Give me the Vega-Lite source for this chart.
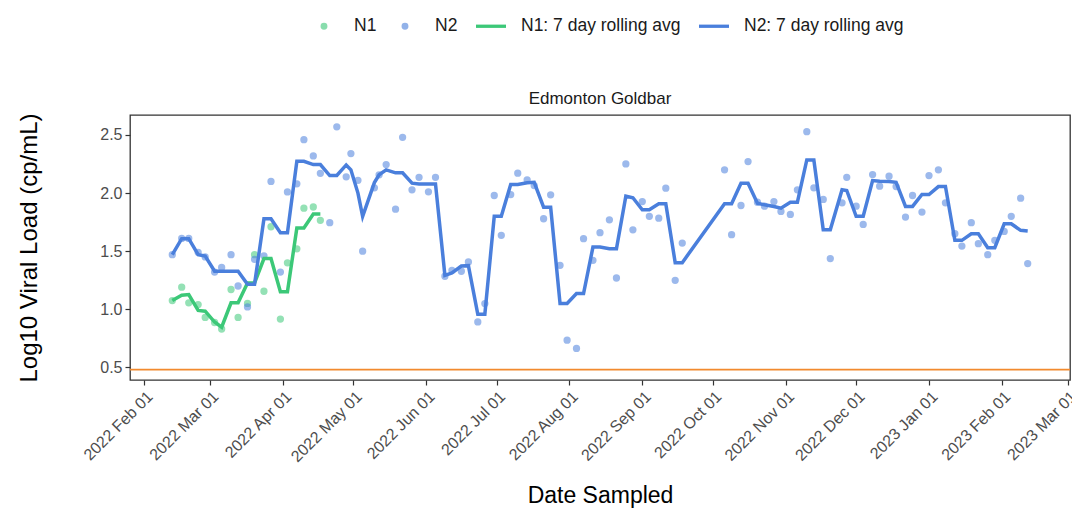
{
  "$schema": "https://vega.github.io/schema/vega-lite/v6.json",
  "width": 940,
  "height": 265,
  "autosize": {"type": "none"},
  "padding": {"left": 130, "top": 115, "right": 2, "bottom": 135},
  "background": "white",
  "title": {"text": "Edmonton Goldbar", "fontSize": 17, "font": "Liberation Sans", "fontWeight": "normal", "color": "#1A1A1A", "anchor": "middle", "frame": "group", "offset": 7, "dy": 106},
  "data": {"values": [
    {"date":"2022-02-13","series":"N1","value":1.075},{"date":"2022-02-17","series":"N1","value":1.19},{"date":"2022-02-20","series":"N1","value":1.055},{"date":"2022-02-24","series":"N1","value":1.04},{"date":"2022-02-27","series":"N1","value":0.93},{"date":"2022-03-03","series":"N1","value":0.886},{"date":"2022-03-06","series":"N1","value":0.83},{"date":"2022-03-10","series":"N1","value":1.17},{"date":"2022-03-13","series":"N1","value":0.93},{"date":"2022-03-17","series":"N1","value":1.05},{"date":"2022-03-20","series":"N1","value":1.47},{"date":"2022-03-24","series":"N1","value":1.155},{"date":"2022-03-27","series":"N1","value":1.71},{"date":"2022-03-31","series":"N1","value":0.915},{"date":"2022-04-03","series":"N1","value":1.40},{"date":"2022-04-07","series":"N1","value":1.52},{"date":"2022-04-10","series":"N1","value":1.87},{"date":"2022-04-14","series":"N1","value":1.88},{"date":"2022-04-17","series":"N1","value":1.765},
    {"date":"2022-02-13","series":"N1: 7 day rolling avg","value":1.075},{"date":"2022-02-17","series":"N1: 7 day rolling avg","value":1.12},{"date":"2022-02-20","series":"N1: 7 day rolling avg","value":1.126},{"date":"2022-02-24","series":"N1: 7 day rolling avg","value":0.99},{"date":"2022-02-27","series":"N1: 7 day rolling avg","value":0.983},{"date":"2022-03-03","series":"N1: 7 day rolling avg","value":0.89},{"date":"2022-03-06","series":"N1: 7 day rolling avg","value":0.846},{"date":"2022-03-10","series":"N1: 7 day rolling avg","value":1.055},{"date":"2022-03-13","series":"N1: 7 day rolling avg","value":1.055},{"date":"2022-03-17","series":"N1: 7 day rolling avg","value":1.226},{"date":"2022-03-20","series":"N1: 7 day rolling avg","value":1.226},{"date":"2022-03-24","series":"N1: 7 day rolling avg","value":1.436},{"date":"2022-03-27","series":"N1: 7 day rolling avg","value":1.436},{"date":"2022-03-31","series":"N1: 7 day rolling avg","value":1.15},{"date":"2022-04-03","series":"N1: 7 day rolling avg","value":1.15},{"date":"2022-04-07","series":"N1: 7 day rolling avg","value":1.70},{"date":"2022-04-10","series":"N1: 7 day rolling avg","value":1.70},{"date":"2022-04-14","series":"N1: 7 day rolling avg","value":1.82},{"date":"2022-04-17","series":"N1: 7 day rolling avg","value":1.82},
    {"date":"2022-02-13","series":"N2","value":1.47},{"date":"2022-02-17","series":"N2","value":1.61},{"date":"2022-02-20","series":"N2","value":1.61},{"date":"2022-02-24","series":"N2","value":1.49},{"date":"2022-02-27","series":"N2","value":1.45},{"date":"2022-03-03","series":"N2","value":1.32},{"date":"2022-03-06","series":"N2","value":1.36},{"date":"2022-03-10","series":"N2","value":1.47},{"date":"2022-03-13","series":"N2","value":1.20},{"date":"2022-03-17","series":"N2","value":1.02},{"date":"2022-03-20","series":"N2","value":1.43},{"date":"2022-03-24","series":"N2","value":1.46},{"date":"2022-03-27","series":"N2","value":2.10},{"date":"2022-03-31","series":"N2","value":1.32},{"date":"2022-04-03","series":"N2","value":2.01},{"date":"2022-04-07","series":"N2","value":2.08},{"date":"2022-04-10","series":"N2","value":2.46},{"date":"2022-04-14","series":"N2","value":2.32},{"date":"2022-04-17","series":"N2","value":2.17},{"date":"2022-04-21","series":"N2","value":1.745},{"date":"2022-04-24","series":"N2","value":2.57},{"date":"2022-04-28","series":"N2","value":2.14},{"date":"2022-04-30","series":"N2","value":2.34},{"date":"2022-05-03","series":"N2","value":2.11},{"date":"2022-05-05","series":"N2","value":1.50},{"date":"2022-05-10","series":"N2","value":2.045},{"date":"2022-05-12","series":"N2","value":2.157},{"date":"2022-05-15","series":"N2","value":2.245},{"date":"2022-05-19","series":"N2","value":1.861},{"date":"2022-05-22","series":"N2","value":2.48},{"date":"2022-05-26","series":"N2","value":2.028},{"date":"2022-05-29","series":"N2","value":2.136},{"date":"2022-06-02","series":"N2","value":2.011},{"date":"2022-06-05","series":"N2","value":2.136},{"date":"2022-06-09","series":"N2","value":1.284},{"date":"2022-06-12","series":"N2","value":1.335},{"date":"2022-06-16","series":"N2","value":1.327},{"date":"2022-06-19","series":"N2","value":1.407},{"date":"2022-06-23","series":"N2","value":0.891},{"date":"2022-06-26","series":"N2","value":1.049},{"date":"2022-06-30","series":"N2","value":1.979},{"date":"2022-07-03","series":"N2","value":1.636},{"date":"2022-07-07","series":"N2","value":1.987},{"date":"2022-07-10","series":"N2","value":2.171},{"date":"2022-07-14","series":"N2","value":2.114},{"date":"2022-07-17","series":"N2","value":2.065},{"date":"2022-07-21","series":"N2","value":1.779},{"date":"2022-07-24","series":"N2","value":1.985},{"date":"2022-07-28","series":"N2","value":1.378},{"date":"2022-07-31","series":"N2","value":0.734},{"date":"2022-08-04","series":"N2","value":0.663},{"date":"2022-08-07","series":"N2","value":1.607},{"date":"2022-08-11","series":"N2","value":1.421},{"date":"2022-08-14","series":"N2","value":1.659},{"date":"2022-08-18","series":"N2","value":1.770},{"date":"2022-08-21","series":"N2","value":1.269},{"date":"2022-08-25","series":"N2","value":2.251},{"date":"2022-08-28","series":"N2","value":1.684},{"date":"2022-09-01","series":"N2","value":1.927},{"date":"2022-09-04","series":"N2","value":1.80},{"date":"2022-09-08","series":"N2","value":1.784},{"date":"2022-09-11","series":"N2","value":2.042},{"date":"2022-09-15","series":"N2","value":1.249},{"date":"2022-09-18","series":"N2","value":1.570},{"date":"2022-10-06","series":"N2","value":2.20},{"date":"2022-10-09","series":"N2","value":1.642},{"date":"2022-10-13","series":"N2","value":1.893},{"date":"2022-10-16","series":"N2","value":2.271},{"date":"2022-10-20","series":"N2","value":1.921},{"date":"2022-10-23","series":"N2","value":1.887},{"date":"2022-10-27","series":"N2","value":1.927},{"date":"2022-10-30","series":"N2","value":1.842},{"date":"2022-11-03","series":"N2","value":1.816},{"date":"2022-11-06","series":"N2","value":2.028},{"date":"2022-11-10","series":"N2","value":2.528},{"date":"2022-11-13","series":"N2","value":2.045},{"date":"2022-11-17","series":"N2","value":1.945},{"date":"2022-11-20","series":"N2","value":1.436},{"date":"2022-11-25","series":"N2","value":1.916},{"date":"2022-11-27","series":"N2","value":2.136},{"date":"2022-12-01","series":"N2","value":1.887},{"date":"2022-12-04","series":"N2","value":1.730},{"date":"2022-12-08","series":"N2","value":2.159},{"date":"2022-12-11","series":"N2","value":2.059},{"date":"2022-12-15","series":"N2","value":2.145},{"date":"2022-12-18","series":"N2","value":2.056},{"date":"2022-12-22","series":"N2","value":1.793},{"date":"2022-12-25","series":"N2","value":1.979},{"date":"2022-12-29","series":"N2","value":1.836},{"date":"2023-01-01","series":"N2","value":2.151},{"date":"2023-01-05","series":"N2","value":2.20},{"date":"2023-01-08","series":"N2","value":1.916},{"date":"2023-01-12","series":"N2","value":1.650},{"date":"2023-01-15","series":"N2","value":1.544},{"date":"2023-01-19","series":"N2","value":1.745},{"date":"2023-01-22","series":"N2","value":1.564},{"date":"2023-01-26","series":"N2","value":1.470},{"date":"2023-01-29","series":"N2","value":1.593},{"date":"2023-02-02","series":"N2","value":1.670},{"date":"2023-02-05","series":"N2","value":1.80},{"date":"2023-02-09","series":"N2","value":1.956},{"date":"2023-02-12","series":"N2","value":1.393},
    {"date":"2022-02-13","series":"N2: 7 day rolling avg","value":1.47},{"date":"2022-02-17","series":"N2: 7 day rolling avg","value":1.607},{"date":"2022-02-20","series":"N2: 7 day rolling avg","value":1.607},{"date":"2022-02-24","series":"N2: 7 day rolling avg","value":1.47},{"date":"2022-02-27","series":"N2: 7 day rolling avg","value":1.458},{"date":"2022-03-03","series":"N2: 7 day rolling avg","value":1.327},{"date":"2022-03-06","series":"N2: 7 day rolling avg","value":1.327},{"date":"2022-03-10","series":"N2: 7 day rolling avg","value":1.327},{"date":"2022-03-13","series":"N2: 7 day rolling avg","value":1.327},{"date":"2022-03-17","series":"N2: 7 day rolling avg","value":1.215},{"date":"2022-03-20","series":"N2: 7 day rolling avg","value":1.215},{"date":"2022-03-24","series":"N2: 7 day rolling avg","value":1.779},{"date":"2022-03-27","series":"N2: 7 day rolling avg","value":1.779},{"date":"2022-03-31","series":"N2: 7 day rolling avg","value":1.659},{"date":"2022-04-03","series":"N2: 7 day rolling avg","value":1.659},{"date":"2022-04-07","series":"N2: 7 day rolling avg","value":2.273},{"date":"2022-04-10","series":"N2: 7 day rolling avg","value":2.273},{"date":"2022-04-14","series":"N2: 7 day rolling avg","value":2.245},{"date":"2022-04-17","series":"N2: 7 day rolling avg","value":2.245},{"date":"2022-04-21","series":"N2: 7 day rolling avg","value":2.151},{"date":"2022-04-24","series":"N2: 7 day rolling avg","value":2.151},{"date":"2022-04-28","series":"N2: 7 day rolling avg","value":2.242},{"date":"2022-04-30","series":"N2: 7 day rolling avg","value":2.20},{"date":"2022-05-03","series":"N2: 7 day rolling avg","value":2.0},{"date":"2022-05-05","series":"N2: 7 day rolling avg","value":1.80},{"date":"2022-05-10","series":"N2: 7 day rolling avg","value":2.09},{"date":"2022-05-12","series":"N2: 7 day rolling avg","value":2.157},{"date":"2022-05-15","series":"N2: 7 day rolling avg","value":2.20},{"date":"2022-05-19","series":"N2: 7 day rolling avg","value":2.174},{"date":"2022-05-22","series":"N2: 7 day rolling avg","value":2.174},{"date":"2022-05-26","series":"N2: 7 day rolling avg","value":2.085},{"date":"2022-05-29","series":"N2: 7 day rolling avg","value":2.079},{"date":"2022-06-02","series":"N2: 7 day rolling avg","value":2.079},{"date":"2022-06-05","series":"N2: 7 day rolling avg","value":2.079},{"date":"2022-06-09","series":"N2: 7 day rolling avg","value":1.292},{"date":"2022-06-12","series":"N2: 7 day rolling avg","value":1.312},{"date":"2022-06-16","series":"N2: 7 day rolling avg","value":1.372},{"date":"2022-06-19","series":"N2: 7 day rolling avg","value":1.375},{"date":"2022-06-23","series":"N2: 7 day rolling avg","value":0.957},{"date":"2022-06-26","series":"N2: 7 day rolling avg","value":0.957},{"date":"2022-06-30","series":"N2: 7 day rolling avg","value":1.80},{"date":"2022-07-03","series":"N2: 7 day rolling avg","value":1.80},{"date":"2022-07-07","series":"N2: 7 day rolling avg","value":2.073},{"date":"2022-07-10","series":"N2: 7 day rolling avg","value":2.073},{"date":"2022-07-14","series":"N2: 7 day rolling avg","value":2.088},{"date":"2022-07-17","series":"N2: 7 day rolling avg","value":2.093},{"date":"2022-07-21","series":"N2: 7 day rolling avg","value":1.879},{"date":"2022-07-24","series":"N2: 7 day rolling avg","value":1.879},{"date":"2022-07-28","series":"N2: 7 day rolling avg","value":1.049},{"date":"2022-07-31","series":"N2: 7 day rolling avg","value":1.049},{"date":"2022-08-04","series":"N2: 7 day rolling avg","value":1.135},{"date":"2022-08-07","series":"N2: 7 day rolling avg","value":1.135},{"date":"2022-08-11","series":"N2: 7 day rolling avg","value":1.535},{"date":"2022-08-14","series":"N2: 7 day rolling avg","value":1.535},{"date":"2022-08-18","series":"N2: 7 day rolling avg","value":1.521},{"date":"2022-08-21","series":"N2: 7 day rolling avg","value":1.521},{"date":"2022-08-25","series":"N2: 7 day rolling avg","value":1.973},{"date":"2022-08-28","series":"N2: 7 day rolling avg","value":1.96},{"date":"2022-09-01","series":"N2: 7 day rolling avg","value":1.856},{"date":"2022-09-04","series":"N2: 7 day rolling avg","value":1.856},{"date":"2022-09-08","series":"N2: 7 day rolling avg","value":1.908},{"date":"2022-09-11","series":"N2: 7 day rolling avg","value":1.908},{"date":"2022-09-15","series":"N2: 7 day rolling avg","value":1.401},{"date":"2022-09-18","series":"N2: 7 day rolling avg","value":1.401},{"date":"2022-10-06","series":"N2: 7 day rolling avg","value":1.908},{"date":"2022-10-09","series":"N2: 7 day rolling avg","value":1.908},{"date":"2022-10-13","series":"N2: 7 day rolling avg","value":2.085},{"date":"2022-10-16","series":"N2: 7 day rolling avg","value":2.085},{"date":"2022-10-20","series":"N2: 7 day rolling avg","value":1.913},{"date":"2022-10-23","series":"N2: 7 day rolling avg","value":1.899},{"date":"2022-10-27","series":"N2: 7 day rolling avg","value":1.885},{"date":"2022-10-30","series":"N2: 7 day rolling avg","value":1.870},{"date":"2022-11-03","series":"N2: 7 day rolling avg","value":1.921},{"date":"2022-11-06","series":"N2: 7 day rolling avg","value":1.921},{"date":"2022-11-10","series":"N2: 7 day rolling avg","value":2.285},{"date":"2022-11-13","series":"N2: 7 day rolling avg","value":2.285},{"date":"2022-11-17","series":"N2: 7 day rolling avg","value":1.684},{"date":"2022-11-20","series":"N2: 7 day rolling avg","value":1.684},{"date":"2022-11-25","series":"N2: 7 day rolling avg","value":2.028},{"date":"2022-11-27","series":"N2: 7 day rolling avg","value":2.022},{"date":"2022-12-01","series":"N2: 7 day rolling avg","value":1.80},{"date":"2022-12-04","series":"N2: 7 day rolling avg","value":1.80},{"date":"2022-12-08","series":"N2: 7 day rolling avg","value":2.108},{"date":"2022-12-11","series":"N2: 7 day rolling avg","value":2.102},{"date":"2022-12-15","series":"N2: 7 day rolling avg","value":2.099},{"date":"2022-12-18","series":"N2: 7 day rolling avg","value":2.093},{"date":"2022-12-22","series":"N2: 7 day rolling avg","value":1.885},{"date":"2022-12-25","series":"N2: 7 day rolling avg","value":1.885},{"date":"2022-12-29","series":"N2: 7 day rolling avg","value":1.988},{"date":"2023-01-01","series":"N2: 7 day rolling avg","value":1.988},{"date":"2023-01-05","series":"N2: 7 day rolling avg","value":2.056},{"date":"2023-01-08","series":"N2: 7 day rolling avg","value":2.056},{"date":"2023-01-12","series":"N2: 7 day rolling avg","value":1.593},{"date":"2023-01-15","series":"N2: 7 day rolling avg","value":1.593},{"date":"2023-01-19","series":"N2: 7 day rolling avg","value":1.650},{"date":"2023-01-22","series":"N2: 7 day rolling avg","value":1.650},{"date":"2023-01-26","series":"N2: 7 day rolling avg","value":1.530},{"date":"2023-01-29","series":"N2: 7 day rolling avg","value":1.530},{"date":"2023-02-02","series":"N2: 7 day rolling avg","value":1.736},{"date":"2023-02-05","series":"N2: 7 day rolling avg","value":1.736},{"date":"2023-02-09","series":"N2: 7 day rolling avg","value":1.679},{"date":"2023-02-12","series":"N2: 7 day rolling avg","value":1.673}
  ]},
  "layer": [
    {
      "transform": [{"filter": "indexof(datum.series, 'rolling') < 0"}],
      "mark": {"type": "point", "filled": true, "size": 53, "opacity": 0.55},
      "encoding": {
        "x": {"field": "date", "type": "temporal",
          "scale": {"type": "utc", "domain": [{"year": 2022, "month": 1, "date": 26, "utc": true}, {"year": 2023, "month": 3, "date": 2, "utc": true}]},
          "axis": {"title": "Date Sampled", "format": "%Y %b %d",
            "values": [{"year":2022,"month":2,"date":1,"utc":true},{"year":2022,"month":3,"date":1,"utc":true},{"year":2022,"month":4,"date":1,"utc":true},{"year":2022,"month":5,"date":1,"utc":true},{"year":2022,"month":6,"date":1,"utc":true},{"year":2022,"month":7,"date":1,"utc":true},{"year":2022,"month":8,"date":1,"utc":true},{"year":2022,"month":9,"date":1,"utc":true},{"year":2022,"month":10,"date":1,"utc":true},{"year":2022,"month":11,"date":1,"utc":true},{"year":2022,"month":12,"date":1,"utc":true},{"year":2023,"month":1,"date":1,"utc":true},{"year":2023,"month":2,"date":1,"utc":true},{"year":2023,"month":3,"date":1,"utc":true}],
            "labelAngle": -45, "labelAlign": "right", "labelBaseline": "top", "labelPadding": 3, "labelOverlap": false, "labelFlush": false, "titlePadding": 20, "titleFontSize": 23}
        },
        "y": {"field": "value", "type": "quantitative",
          "scale": {"domain": [0.391, 2.672], "nice": false, "zero": false},
          "axis": {"title": "Log10 Viral Load (cp/mL)", "values": [0.5, 1, 1.5, 2, 2.5], "format": ".1f", "labelPadding": 3, "titlePadding": 58, "titleFontSize": 24}
        },
        "color": {"field": "series", "type": "nominal",
          "scale": {"domain": ["N1", "N2", "N1: 7 day rolling avg", "N2: 7 day rolling avg"], "range": ["#3CC878", "#4A7FDC", "#3CC878", "#4A7FDC"]},
          "legend": {"orient": "none", "legendX": 177, "legendY": -106, "direction": "horizontal", "columns": 4, "title": null,
            "symbolSize": 900, "symbolStrokeWidth": 3.3, "labelFontSize": 17.5, "labelFont": "Liberation Sans", "labelColor": "#1A1A1A", "labelOffset": 13, "columnPadding": 11, "padding": 0,
            "encode": {"symbols": {"update": {
              "shape": {"signal": "(datum.value == 'N1' || datum.value == 'N2') ? 'M-0.12,0A0.12,0.12,0,1,0,0.12,0A0.12,0.12,0,1,0,-0.12,0Z' : 'M-1,0L1,0'"},
              "fill": {"scale": "color", "field": "value"},
              "stroke": {"scale": "color", "field": "value"},
              "opacity": {"signal": "(datum.value == 'N1' || datum.value == 'N2') ? 0.6 : 1"}
            }}}
          }
        }
      }
    },
    {
      "transform": [{"filter": "indexof(datum.series, 'rolling') >= 0"}],
      "mark": {"type": "line", "strokeWidth": 3.5},
      "encoding": {
        "x": {"field": "date", "type": "temporal"},
        "y": {"field": "value", "type": "quantitative"},
        "color": {"field": "series", "type": "nominal",
          "legend": {"orient": "none", "legendX": 177, "legendY": -106, "direction": "horizontal", "columns": 4, "title": null,
            "symbolSize": 900, "symbolStrokeWidth": 3.3, "labelFontSize": 17.5, "labelFont": "Liberation Sans", "labelColor": "#1A1A1A", "labelOffset": 13, "columnPadding": 11, "padding": 0,
            "encode": {"symbols": {"update": {
              "shape": {"signal": "(datum.value == 'N1' || datum.value == 'N2') ? 'M-0.12,0A0.12,0.12,0,1,0,0.12,0A0.12,0.12,0,1,0,-0.12,0Z' : 'M-1,0L1,0'"},
              "fill": {"scale": "color", "field": "value"},
              "stroke": {"scale": "color", "field": "value"},
              "opacity": {"signal": "(datum.value == 'N1' || datum.value == 'N2') ? 0.6 : 1"}
            }}}
          }
        }
      }
    },
    {
      "data": {"values": [{"lod": 0.48}]},
      "mark": {"type": "rule", "stroke": "#F28A2E", "strokeWidth": 1.6, "opacity": 1},
      "encoding": {"y": {"field": "lod", "type": "quantitative", "title": "Log10 Viral Load (cp/mL)"}}
    }
  ],
  "config": {
    "font": "Liberation Sans",
    "view": {"stroke": "#333333", "strokeWidth": 1.3},
    "axis": {"grid": false, "domain": false, "tickColor": "#333333", "tickSize": 5, "tickWidth": 1.2,
      "labelFont": "Liberation Sans", "labelFontSize": 16, "labelColor": "#4D4D4D",
      "titleFont": "Liberation Sans", "titleFontWeight": "normal", "titleColor": "#000000"}
  }
}
